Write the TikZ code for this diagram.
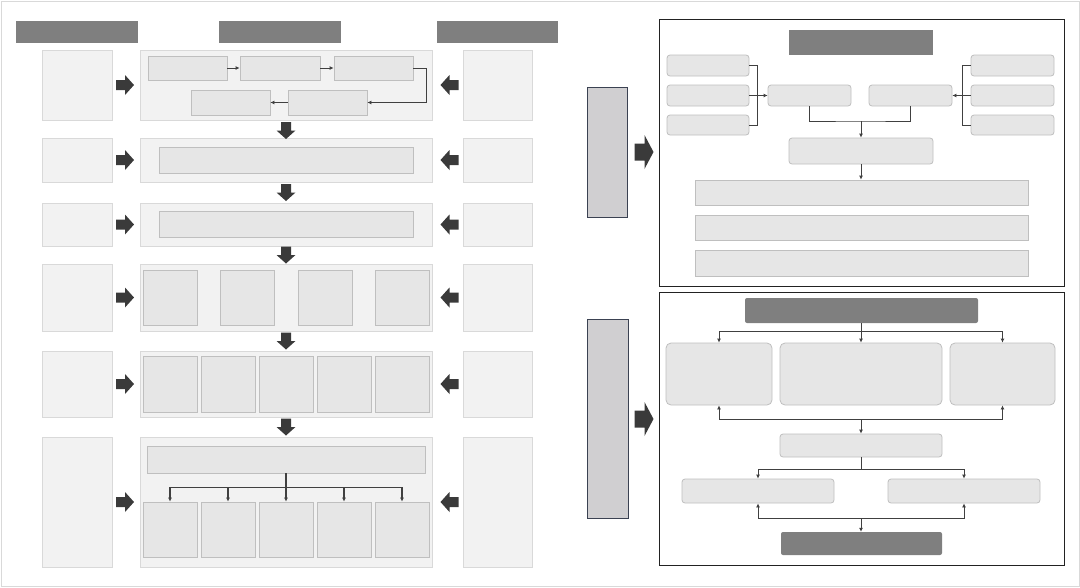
\documentclass[tikz,border=0pt]{standalone}
\usetikzlibrary{arrows.meta,fit}

\definecolor{bargray}{HTML}{7F7F7F}
\definecolor{panelfill}{HTML}{F2F2F2}
\definecolor{paneldraw}{HTML}{D9D9D9}
\definecolor{boxfill}{HTML}{E6E6E6}
\definecolor{boxdraw}{HTML}{BFBFBF}
\definecolor{arrowgray}{HTML}{3A3A3A}
\definecolor{linegray}{HTML}{404040}
\definecolor{tallfill}{HTML}{D0CFD1}
\definecolor{talldraw}{HTML}{3B4252}
\definecolor{framecol}{HTML}{222222}

\tikzset{
  hbar/.style={fill=bargray, draw=none, inner sep=0pt},
  sidebox/.style={fill=panelfill, draw=paneldraw, line width=0.8pt, inner sep=0pt},
  panel/.style={sidebox},
  inbox/.style={fill=boxfill, draw=boxdraw, line width=0.8pt, inner sep=0pt},
  rbox/.style={inbox, rounded corners=3pt},
  frame/.style={draw=framecol, line width=1pt, inner sep=0pt},
  tallbar/.style={fill=tallfill, draw=talldraw, line width=0.8pt, inner sep=0pt},
  link/.style={draw=linegray, line width=0.9pt},
  conn/.style={link, -{Latex[length=4pt,width=4pt]}},
  pics/fatarrow/.style n args={4}{code={
    \fill[arrowgray] ({-#1/2},{-#2}) -- ({#1/2-#4},{-#2}) -- ({#1/2-#4},{-#3})
      -- ({#1/2},0) -- ({#1/2-#4},{#3}) -- ({#1/2-#4},{#2}) -- ({-#1/2},{#2}) -- cycle;
  }}
}

\begin{document}
\begin{tikzpicture}[x=1pt, y=-1pt]
  \useasboundingbox (0,0) rectangle (1080,587);
  \node[draw=paneldraw, line width=1pt, inner sep=0pt, fit={(1,1)(1079,586)}] (page) {};

  % left half: headers
  \node[hbar, fit={(16,21)(138,43)}] (h1) {};
  \node[hbar, fit={(219,21)(341,43)}] (h2) {};
  \node[hbar, fit={(437,21)(558,43)}] (h3) {};

  % rows of side boxes, panels and block arrows
  \foreach \t/\b [count=\i] in {50/120,138/182,203/246,264/331,351/417,437/567} {
    \node[sidebox, fit={(42,\t)(112,\b)}] (ls\i) {};
    \node[sidebox, fit={(463,\t)(532,\b)}] (rs\i) {};
    \node[panel, fit={(140,\t)(432,\b)}] (p\i) {};
    \pic at (125,{(\t+\b)/2}) {fatarrow={18}{5}{10}{9}};
    \pic[rotate=180] at (449.5,{(\t+\b)/2}) {fatarrow={18}{5}{10}{9}};
  }
  \foreach \y in {130.5,192.5,255,341,427}
    \pic[rotate=-90] at (286,\y) {fatarrow={17}{5}{9.5}{8.5}};

  % row 1
  \node[inbox, fit={(148,56)(227,80)}] (a1) {};
  \node[inbox, fit={(240,56)(320,80)}] (a2) {};
  \node[inbox, fit={(334,56)(413,80)}] (a3) {};
  \node[inbox, fit={(288,90)(367,115)}] (a4) {};
  \node[inbox, fit={(191,90)(270,115)}] (a5) {};
  \draw[conn] (a1.east) -- (a2.west);
  \draw[conn] (a2.east) -- (a3.west);
  \draw[conn] (a3.east) -- ++(13,0) |- (a4.east);
  \draw[conn] (a4.west) -- (a5.east);

  % rows 2 and 3
  \node[inbox, fit={(159,147)(413,173)}] (q2) {};
  \node[inbox, fit={(159,211)(413,237)}] (q3) {};

  % row 4
  \foreach \x [count=\i] in {143,220,298,375}
    \node[inbox, fit={(\x,270)({\x+54},325)}] (c\i) {};

  % row 5
  \foreach \x [count=\i] in {143,201,259,317,375}
    \node[inbox, fit={(\x,356)({\x+54},412)}] (e\i) {};

  % row 6
  \node[inbox, fit={(147,446)(425,473)}] (f0) {};
  \foreach \x [count=\i] in {143,201,259,317,375}
    \node[inbox, fit={(\x,502)({\x+54},557)}] (f\i) {};
  \path (f0.south) ++(0,14) coordinate (s5);
  \draw[link, line width=1.3pt] (f0.south) -- (s5);
  \foreach \i in {1,...,5}
    \draw[conn, line width=1.3pt] (s5) -| (f\i.north);

  % right half: side bars and arrows
  \node[tallbar, fit={(587,87)(627,217)}] (g1) {};
  \node[tallbar, fit={(587,319)(628,518)}] (g2) {};
  \pic at (644,152) {fatarrow={19}{8.5}{17}{9}};
  \pic at (644,419) {fatarrow={19}{8.5}{17}{9}};

  % upper frame
  \node[frame, fit={(659,19)(1064,286)}] (fr1) {};
  \node[hbar, fit={(789,30)(933,55)}] (t1) {};
  \foreach \t/\b [count=\i] in {55/76,85/106,115/135} {
    \node[rbox, fit={(667,\t)(749,\b)}] (l\i) {};
    \node[rbox, fit={(971,\t)(1054,\b)}] (r\i) {};
  }
  \node[rbox, fit={(768,85)(851,106)}] (m1) {};
  \node[rbox, fit={(869,85)(952,106)}] (m2) {};
  \node[rbox, fit={(789,138)(933,164)}] (mc) {};
  \foreach \t/\b [count=\i] in {180/205,215/240,250/276}
    \node[inbox, fit={(695,\t)(1028,\b)}] (w\i) {};
  \draw[link] (l1.east) -- ++(8,0) |- (l3.east);
  \draw[conn] (l2.east) -- (m1.west);
  \draw[link] (r1.west) -- ++(-8,0) |- (r3.west);
  \draw[conn] (r2.west) -- (m2.east);
  \coordinate (j1) at (mc.north |- 0,121);
  \draw[link] (m1.south) |- (j1) -| (m2.south);
  \draw[conn] (j1) -- (mc.north);
  \draw[conn] (mc.south) -- (mc.south |- w1.north);

  % lower frame
  \node[frame, fit={(659,292)(1064,565)}] (fr2) {};
  \node[hbar, rounded corners=2pt, fit={(745,298)(978,323)}] (t2) {};
  \node[rbox, rounded corners=5pt, fit={(666,343)(772,405)}] (b1) {};
  \node[rbox, rounded corners=5pt, fit={(780,343)(942,405)}] (b2) {};
  \node[rbox, rounded corners=5pt, fit={(950,343)(1055,405)}] (b3) {};
  \node[rbox, fit={(780,434)(942,457)}] (k1) {};
  \node[rbox, fit={(682,479)(834,503)}] (d1) {};
  \node[rbox, fit={(888,479)(1040,503)}] (d2) {};
  \node[hbar, rounded corners=2pt, fit={(781,532)(942,555)}] (z1) {};
  \path (b2.north) ++(0,-11) coordinate (s1);
  \draw[link] (s1 |- t2.south) -- (s1);
  \draw[conn] (s1) -| (b1.north);
  \draw[conn] (s1) -- (b2.north);
  \draw[conn] (s1) -| (b3.north);
  \path (b2.south) ++(0,14) coordinate (s2);
  \draw[conn] (s2) -| (b1.south);
  \draw[conn] (s2) -| (b3.south);
  \draw[conn] (s2) -- (k1.north);
  \path (k1.south) ++(0,12) coordinate (s3);
  \draw[link] (k1.south) -- (s3);
  \draw[conn] (s3) -| (d1.north);
  \draw[conn] (s3) -| (d2.north);
  \path (k1.south) ++(0,61) coordinate (s4);
  \draw[conn] (s4) -| (d1.south);
  \draw[conn] (s4) -| (d2.south);
  \draw[conn] (s4) -- (s4 |- z1.north);
\end{tikzpicture}
\end{document}
